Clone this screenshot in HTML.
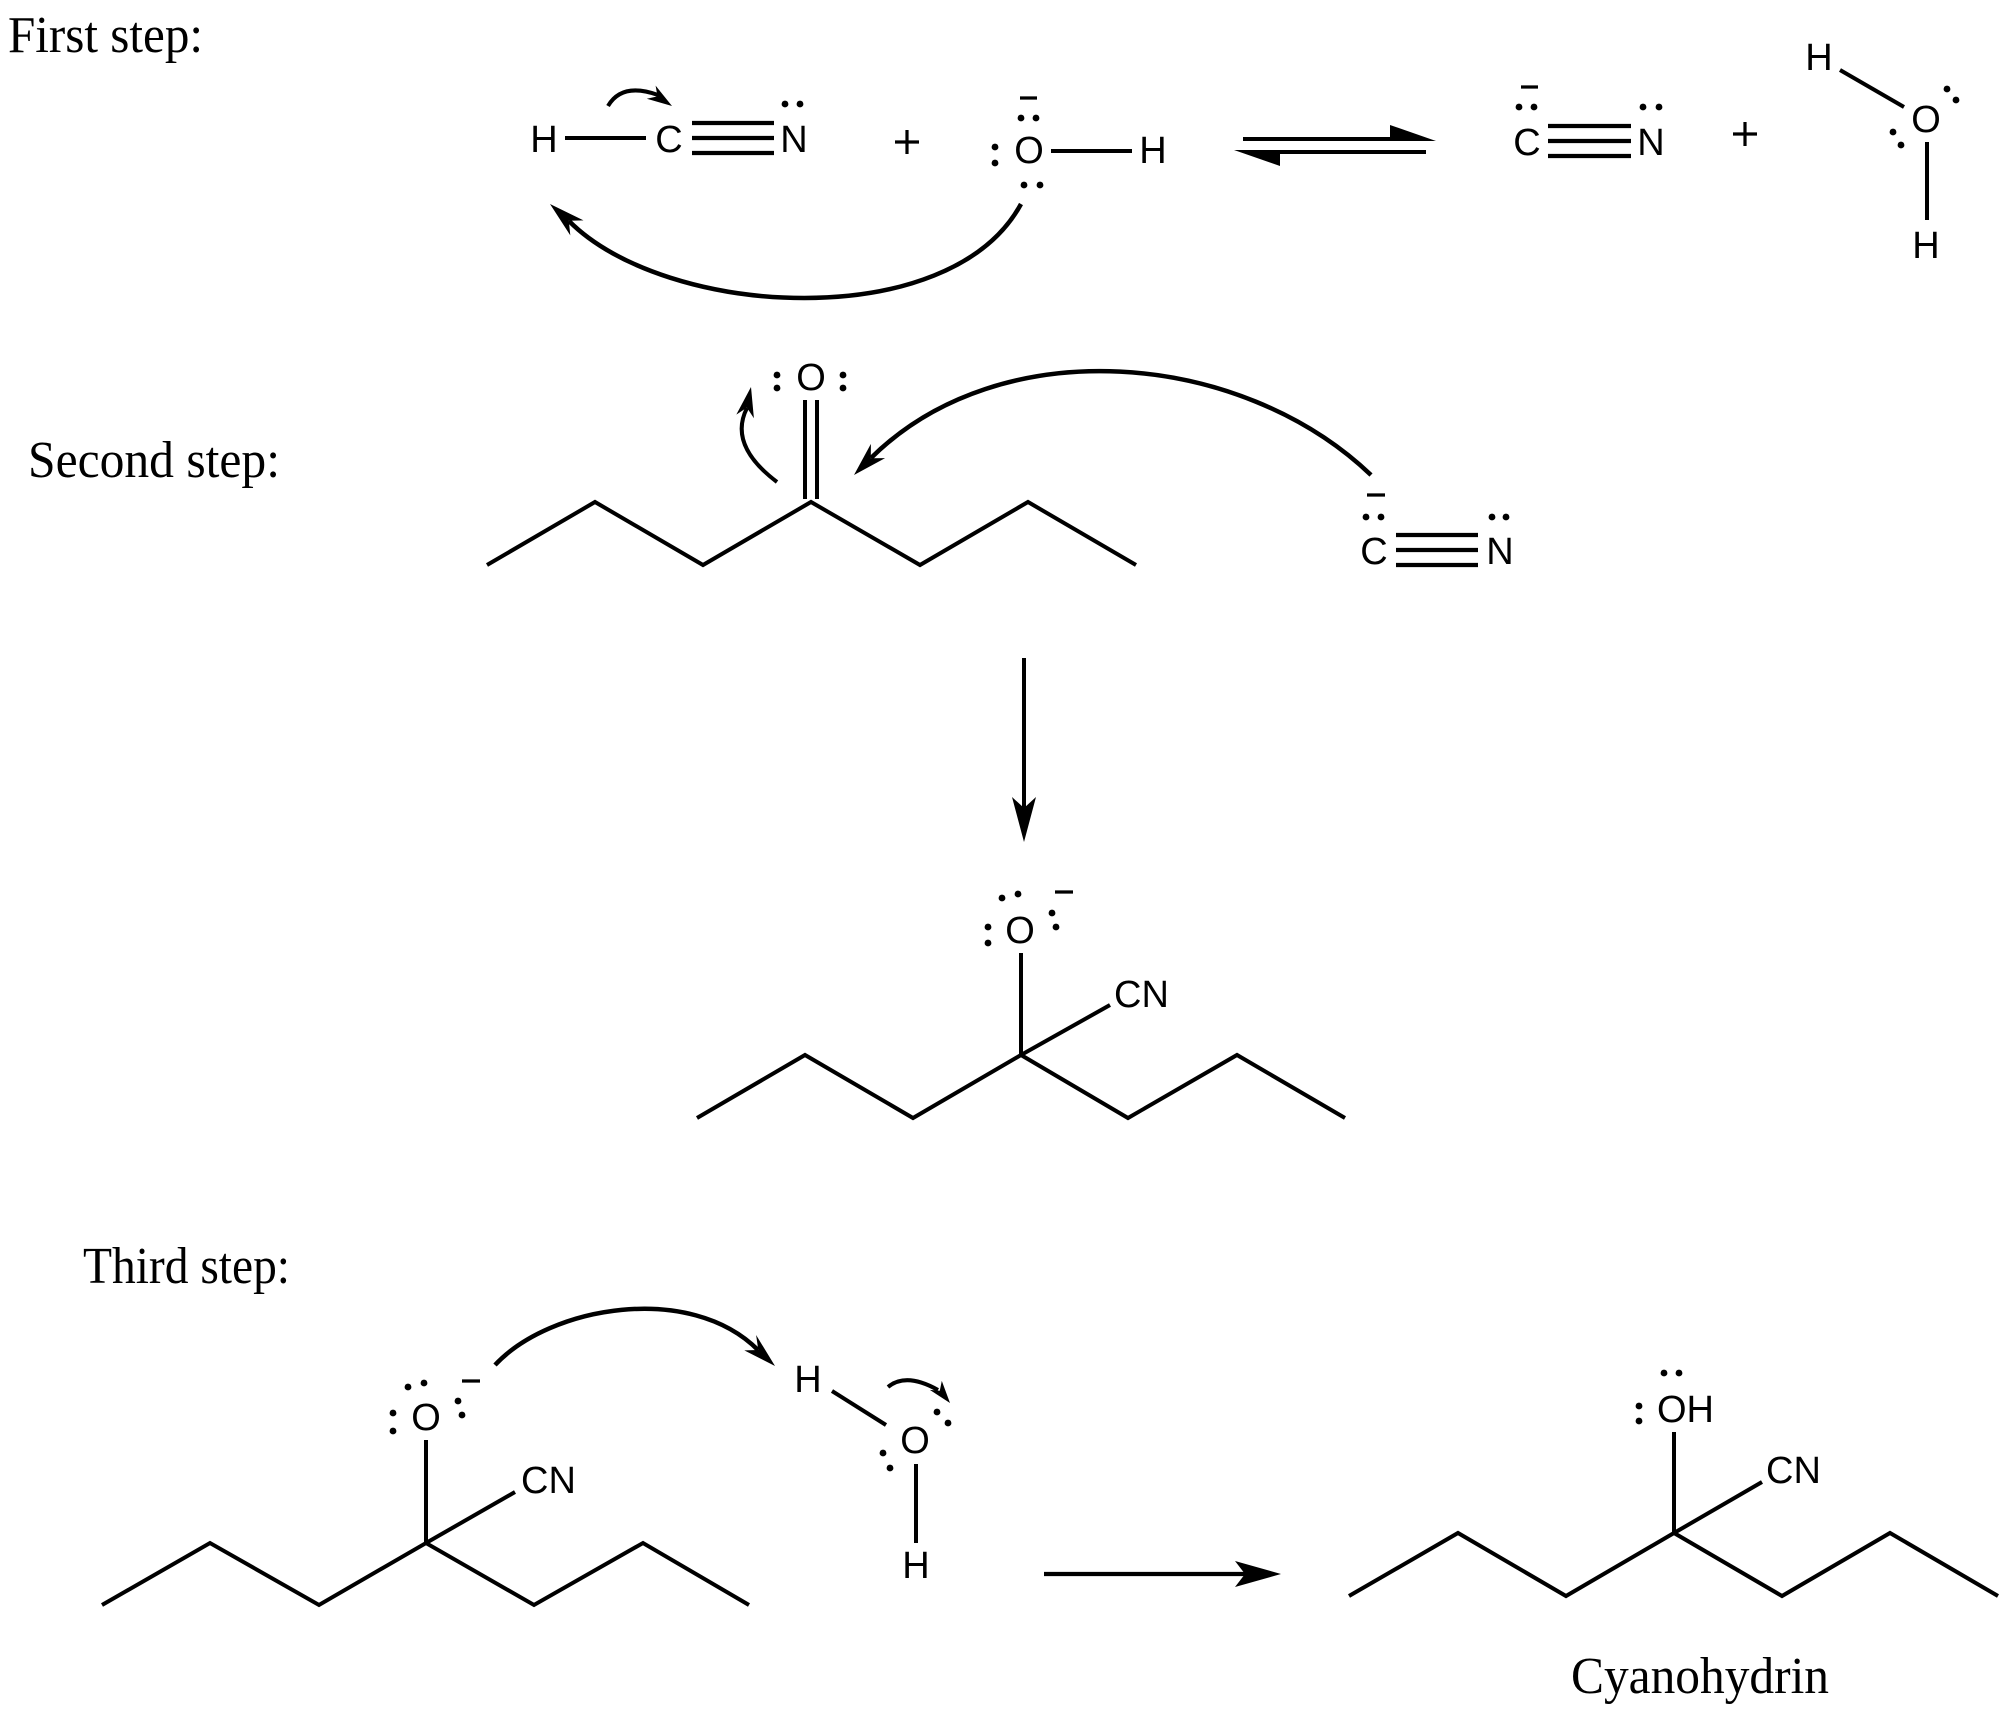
<!DOCTYPE html>
<html>
<head>
<meta charset="utf-8">
<style>
  html, body { margin: 0; padding: 0; background: #fff; }
  svg { display: block; }
  .ser { font-family: "Liberation Serif", "Times New Roman", serif; font-size: 52px; fill: #000; }
  .lab { font-family: "Liberation Sans", Arial, sans-serif; font-size: 38px; fill: #000; }
</style>
</head>
<body>
<svg xmlns="http://www.w3.org/2000/svg" width="2008" height="1715" viewBox="0 0 2008 1715">
  <rect x="0" y="0" width="2008" height="1715" fill="#fff"/>

  <!-- ================= STEP 1 ================= -->
  <text class="ser" x="8" y="52" textLength="195" lengthAdjust="spacingAndGlyphs">First step:</text>

  <!-- HCN -->
  <g class="lab" text-anchor="middle">
    <text x="544" y="152">H</text>
    <text x="669" y="152">C</text>
    <text x="794" y="152">N</text>
  </g>
  <line x1="565" y1="138" x2="646" y2="138" stroke="#000" stroke-width="4"/>
  <g stroke="#000" stroke-width="4.2" fill="none">
    <line x1="692" y1="123" x2="774" y2="123"/>
    <line x1="692" y1="138" x2="774" y2="138"/>
    <line x1="692" y1="153" x2="774" y2="153"/>
  </g>
  <circle cx="785" cy="104" r="3.4"/>
  <circle cx="800" cy="104" r="3.4"/>
  <!-- small curved arrow on HCN -->
  <path d="M608,106 Q622,82 658,95" stroke="#000" stroke-width="4" fill="none"/>
  <polygon points="672,106 646.8,98.8 657.5,96.4 655.6,85.6" fill="#000"/>

  <!-- plus -->
  <g stroke="#000" stroke-width="3.2">
    <line x1="895" y1="142" x2="919" y2="142"/>
    <line x1="907" y1="130" x2="907" y2="154"/>
  </g>

  <!-- :OH- -->
  <g class="lab" text-anchor="middle">
    <text x="1029" y="163">O</text>
    <text x="1153" y="163">H</text>
  </g>
  <line x1="1051" y1="151" x2="1132" y2="151" stroke="#000" stroke-width="4"/>
  <line x1="1020" y1="98" x2="1037" y2="98" stroke="#000" stroke-width="3.2"/>
  <circle cx="1021" cy="118" r="3.4"/>
  <circle cx="1036" cy="118" r="3.4"/>
  <circle cx="1024" cy="185" r="3.4"/>
  <circle cx="1040" cy="185" r="3.4"/>
  <circle cx="995" cy="147" r="3.4"/>
  <circle cx="995" cy="163" r="3.4"/>

  <!-- big arc arrow step 1 -->
  <path d="M1021,204 C950,335 665,318 569,221" stroke="#000" stroke-width="4.5" fill="none"/>
  <polygon points="550,204 583.5,220.4 568.8,220.7 570.3,235.4" fill="#000"/>

  <!-- equilibrium arrows -->
  <line x1="1243" y1="139" x2="1400" y2="139" stroke="#000" stroke-width="4"/>
  <polygon points="1390,125 1436,141 1390,141" fill="#000"/>
  <line x1="1262" y1="152" x2="1426" y2="152" stroke="#000" stroke-width="4"/>
  <polygon points="1234,150 1280,150 1280,166" fill="#000"/>

  <!-- CN- step1 -->
  <g class="lab" text-anchor="middle">
    <text x="1527" y="155">C</text>
    <text x="1651" y="155">N</text>
  </g>
  <g stroke="#000" stroke-width="4.2">
    <line x1="1548" y1="126" x2="1631" y2="126"/>
    <line x1="1548" y1="141" x2="1631" y2="141"/>
    <line x1="1548" y1="156" x2="1631" y2="156"/>
  </g>
  <line x1="1521" y1="87" x2="1538" y2="87" stroke="#000" stroke-width="3.2"/>
  <circle cx="1519" cy="107" r="3.4"/>
  <circle cx="1534" cy="107" r="3.4"/>
  <circle cx="1643" cy="107" r="3.4"/>
  <circle cx="1659" cy="107" r="3.4"/>

  <!-- plus -->
  <g stroke="#000" stroke-width="3.2">
    <line x1="1733" y1="134" x2="1757" y2="134"/>
    <line x1="1745" y1="122" x2="1745" y2="146"/>
  </g>

  <!-- water step 1 -->
  <g class="lab" text-anchor="middle">
    <text x="1819" y="70">H</text>
    <text x="1926" y="132">O</text>
    <text x="1926" y="258">H</text>
  </g>
  <g stroke="#000" stroke-width="4">
    <line x1="1840" y1="70" x2="1904" y2="107"/>
    <line x1="1927" y1="142" x2="1927" y2="220"/>
  </g>
  <circle cx="1947" cy="89" r="3.4"/>
  <circle cx="1956" cy="100" r="3.4"/>
  <circle cx="1893" cy="132" r="3.4"/>
  <circle cx="1901" cy="145" r="3.4"/>

  <!-- ================= STEP 2 ================= -->
  <text class="ser" x="28" y="477" textLength="252" lengthAdjust="spacingAndGlyphs">Second step:</text>

  <!-- ketone chain -->
  <polyline points="487,565 595,502 703,565 811,502 920,565 1028,502 1136,565" stroke="#000" stroke-width="4" fill="none" stroke-linejoin="miter"/>
  <g stroke="#000" stroke-width="4">
    <line x1="805" y1="400" x2="805" y2="499"/>
    <line x1="817" y1="400" x2="817" y2="499"/>
  </g>
  <text class="lab" x="811" y="390" text-anchor="middle">O</text>
  <circle cx="777" cy="375" r="3.4"/>
  <circle cx="777" cy="388" r="3.4"/>
  <circle cx="843" cy="375" r="3.4"/>
  <circle cx="843" cy="388" r="3.4"/>

  <!-- small curved arrow C=O -->
  <path d="M777,482 Q728,445 747,408" stroke="#000" stroke-width="4" fill="none"/>
  <polygon points="751,387 753.9,418.2 746.9,407.6 736.3,414.6" fill="#000"/>

  <!-- big arrow from CN- to carbonyl -->
  <path d="M1371,475 C1240,350 1000,330 871,458" stroke="#000" stroke-width="4.5" fill="none"/>
  <polygon points="854,475 870.9,443.9 870.8,458.2 885.1,458.1" fill="#000"/>

  <!-- CN- step2 -->
  <g class="lab" text-anchor="middle">
    <text x="1374" y="564">C</text>
    <text x="1500" y="564">N</text>
  </g>
  <g stroke="#000" stroke-width="4.2">
    <line x1="1396" y1="535" x2="1478" y2="535"/>
    <line x1="1396" y1="550" x2="1478" y2="550"/>
    <line x1="1396" y1="565" x2="1478" y2="565"/>
  </g>
  <line x1="1367" y1="495" x2="1385" y2="495" stroke="#000" stroke-width="3.2"/>
  <circle cx="1366" cy="517" r="3.4"/>
  <circle cx="1381" cy="517" r="3.4"/>
  <circle cx="1492" cy="517" r="3.4"/>
  <circle cx="1506" cy="517" r="3.4"/>

  <!-- down arrow -->
  <line x1="1024" y1="658" x2="1024" y2="812" stroke="#000" stroke-width="4"/>
  <polygon points="1024,842 1012,797 1024,808 1036,797" fill="#000"/>

  <!-- intermediate alkoxide -->
  <polyline points="697,1118 805,1055 913,1118 1021,1055 1128,1118 1237,1055 1345,1118" stroke="#000" stroke-width="4" fill="none"/>
  <g stroke="#000" stroke-width="4">
    <line x1="1021" y1="953" x2="1021" y2="1055"/>
    <line x1="1021" y1="1055" x2="1110" y2="1005"/>
  </g>
  <text class="lab" x="1020" y="943" text-anchor="middle">O</text>
  <text class="lab" x="1114" y="1007">CN</text>
  <circle cx="988" cy="927" r="3.4"/>
  <circle cx="988" cy="943" r="3.4"/>
  <circle cx="1002" cy="898" r="3.4"/>
  <circle cx="1018" cy="894" r="3.4"/>
  <circle cx="1052" cy="913" r="3.4"/>
  <circle cx="1056" cy="927" r="3.4"/>
  <line x1="1055" y1="892" x2="1073" y2="892" stroke="#000" stroke-width="3.2"/>

  <!-- ================= STEP 3 ================= -->
  <text class="ser" x="83" y="1283" textLength="207" lengthAdjust="spacingAndGlyphs">Third step:</text>

  <!-- left alkoxide -->
  <polyline points="102,1605 210,1543 319,1605 426,1543 534,1605 643,1543 749,1605" stroke="#000" stroke-width="4" fill="none"/>
  <g stroke="#000" stroke-width="4">
    <line x1="426" y1="1440" x2="426" y2="1543"/>
    <line x1="426" y1="1543" x2="515" y2="1492"/>
  </g>
  <text class="lab" x="426" y="1430" text-anchor="middle">O</text>
  <text class="lab" x="521" y="1493">CN</text>
  <circle cx="393" cy="1413" r="3.4"/>
  <circle cx="393" cy="1431" r="3.4"/>
  <circle cx="408" cy="1387" r="3.4"/>
  <circle cx="424" cy="1383" r="3.4"/>
  <circle cx="458" cy="1401" r="3.4"/>
  <circle cx="462" cy="1415" r="3.4"/>
  <line x1="462" y1="1381" x2="480" y2="1381" stroke="#000" stroke-width="3.2"/>

  <!-- arrow O- to H -->
  <path d="M495,1365 C550,1306 690,1282 758,1350" stroke="#000" stroke-width="4.5" fill="none"/>
  <polygon points="775,1366 744.3,1350.4 758.3,1350 756.1,1335" fill="#000"/>

  <!-- water step 3 -->
  <g class="lab" text-anchor="middle">
    <text x="808" y="1392">H</text>
    <text x="915" y="1453">O</text>
    <text x="916" y="1578">H</text>
  </g>
  <g stroke="#000" stroke-width="4">
    <line x1="832" y1="1391" x2="886" y2="1425"/>
    <line x1="916" y1="1464" x2="916" y2="1543"/>
  </g>
  <circle cx="937" cy="1412" r="3.4"/>
  <circle cx="948" cy="1423" r="3.4"/>
  <circle cx="883" cy="1453" r="3.4"/>
  <circle cx="890" cy="1468" r="3.4"/>
  <!-- small curved arrow on water -->
  <path d="M888,1387 Q906,1372 938,1390" stroke="#000" stroke-width="4" fill="none"/>
  <polygon points="950,1403 929.8,1389.9 939.8,1390.7 941.8,1380.9" fill="#000"/>

  <!-- reaction arrow -->
  <line x1="1044" y1="1574" x2="1250" y2="1574" stroke="#000" stroke-width="4.2"/>
  <polygon points="1281,1574 1235,1561 1245,1574 1235,1587" fill="#000"/>

  <!-- product cyanohydrin -->
  <polyline points="1349,1596 1458,1533 1566,1596 1674,1533 1782,1596 1890,1533 1998,1596" stroke="#000" stroke-width="4" fill="none"/>
  <g stroke="#000" stroke-width="4">
    <line x1="1674" y1="1432" x2="1674" y2="1533"/>
    <line x1="1674" y1="1533" x2="1762" y2="1482"/>
  </g>
  <text class="lab" x="1657" y="1422">OH</text>
  <text class="lab" x="1766" y="1483">CN</text>
  <circle cx="1639" cy="1406" r="3.4"/>
  <circle cx="1639" cy="1421" r="3.4"/>
  <circle cx="1664" cy="1373" r="3.4"/>
  <circle cx="1679" cy="1373" r="3.4"/>

  <text class="ser" x="1571" y="1693" textLength="258" lengthAdjust="spacingAndGlyphs">Cyanohydrin</text>
</svg>
</body>
</html>
